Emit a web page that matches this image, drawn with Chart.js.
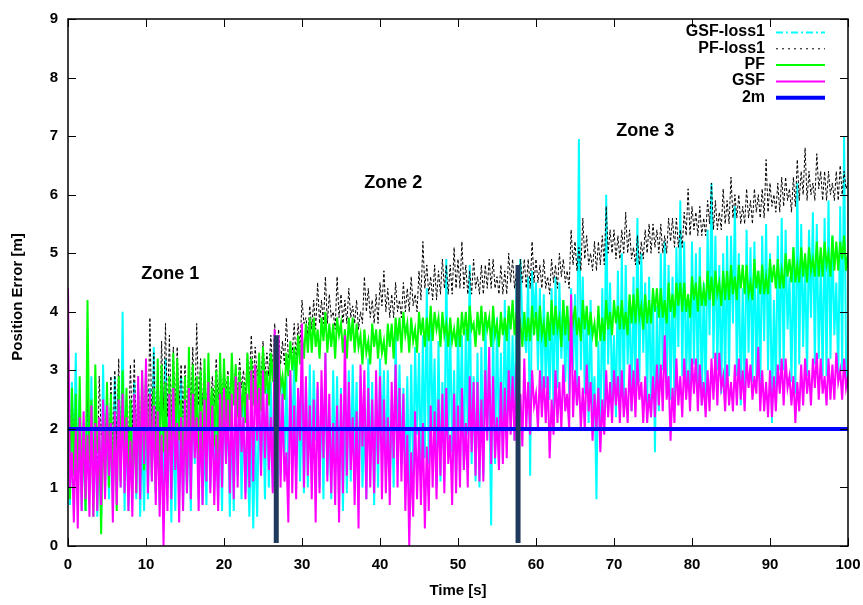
<!DOCTYPE html>
<html>
<head>
<meta charset="utf-8">
<title>Position Error</title>
<script src="https://cdn.jsdelivr.net/npm/chart.js@4.4.1/dist/chart.umd.min.js"></script>
<style>
  html, body { margin: 0; padding: 0; background: #fff; }
  canvas { display: block; }
</style>
</head>
<body>
<canvas id="errorChart" width="863" height="605"></canvas>
<script>
// Position error over time, four filters plus the 2 m reference

// ============================================================
// DATA (one sample every 0.25 s, from 0 to 100 s, 20 per row = 5 s)
// ============================================================
const sampleStep = 0.25;

const gsfLoss1Values = [
    2.6, 0.7, 2.8, 1.4, 3.3, 0.9, 2.5, 0.6, 2.1, 0.6, 2.7, 1.0, 2.9, 1.0, 2.4, 0.5, 1.8, 0.5, 3.1, 1.2,
    2.6, 0.8, 2.4, 0.7, 2.9, 1.3, 2.7, 1.0, 4.0, 0.6, 2.2, 0.6, 2.5, 1.1, 2.8, 0.8, 2.6, 0.5, 1.9, 0.6,
    2.3, 0.8, 2.7, 1.1, 3.4, 0.9, 2.7, 0.7, 2.0, 0.9, 3.2, 1.2, 2.6, 0.4, 2.2, 0.6, 2.5, 0.9, 2.9, 0.6,
    2.4, 0.9, 2.1, 0.6, 2.7, 1.4, 2.6, 0.8, 2.3, 0.7, 1.8, 0.7, 2.9, 1.0, 2.5, 1.1, 2.2, 0.7, 2.3, 0.6,
    2.6, 1.5, 2.2, 0.5, 2.3, 0.6, 2.5, 1.2, 2.7, 0.8, 2.4, 0.9, 1.7, 0.5, 2.1, 0.3, 2.0, 0.5, 2.6, 1.3,
    2.4, 0.8, 2.7, 1.0, 2.8, 1.0, 2.9, 1.6, 3.0, 1.2, 2.8, 1.4, 2.9, 1.0, 3.0, 1.8, 3.2, 1.3, 2.7, 1.1,
    2.5, 0.9, 2.8, 1.0, 3.1, 1.1, 3.0, 1.8, 2.7, 1.0, 2.7, 0.8, 3.3, 1.2, 2.0, 0.8, 3.0, 1.2, 2.9, 0.9,
    2.7, 0.6, 2.4, 0.9, 3.0, 1.1, 3.1, 1.5, 2.8, 0.9, 2.9, 1.0, 2.2, 0.8, 3.2, 1.3, 2.8, 0.7, 2.6, 1.0,
    3.2, 1.8, 3.0, 1.2, 3.0, 1.1, 2.5, 1.0, 3.7, 1.5, 3.1, 1.4, 2.7, 1.1, 2.9, 0.9, 3.1, 1.2, 3.4, 1.9,
    3.3, 1.2, 3.6, 1.5, 4.4, 1.4, 3.9, 2.0, 3.2, 1.0, 3.5, 1.1, 2.8, 1.3, 4.9, 1.8, 3.7, 1.6, 3.0, 1.1,
    3.8, 2.0, 3.6, 1.3, 3.7, 1.9, 4.8, 1.4, 2.9, 1.1, 3.3, 1.0, 3.4, 1.2, 3.9, 2.2, 2.6, 0.35, 3.8, 1.4,
    3.9, 1.7, 3.3, 1.5, 4.2, 1.9, 4.0, 2.1, 3.6, 1.8, 4.5, 3.5, 4.9, 3.8, 3.6, 3.3, 4.6, 1.2, 4.7, 3.9,
    4.5, 3.0, 4.4, 2.6, 4.3, 2.7, 3.9, 2.5, 4.4, 2.3, 4.6, 2.7, 4.5, 3.2, 4.2, 2.8, 4.1, 2.6, 4.4, 3.0,
    4.3, 2.4, 6.95, 3.0, 4.6, 2.6, 4.0, 2.1, 4.2, 2.2, 2.9, 0.8, 3.5, 1.9, 4.4, 2.3, 6.0, 3.1, 4.5, 2.5,
    3.6, 2.2, 4.7, 2.4, 5.0, 2.5, 4.8, 3.1, 4.2, 2.3, 4.6, 2.6, 5.6, 2.8, 5.0, 3.3, 4.5, 2.4, 4.6, 2.2,
    4.4, 1.6, 4.1, 2.3, 5.0, 3.0, 5.2, 2.6, 4.8, 2.5, 4.6, 2.4, 5.1, 3.4, 5.9, 2.9, 5.2, 2.8, 4.3, 2.5,
    5.2, 3.1, 5.0, 2.6, 5.1, 2.4, 4.5, 2.5, 5.4, 3.6, 6.2, 3.2, 5.3, 3.0, 4.8, 2.6, 5.0, 2.7, 5.3, 2.9,
    5.3, 3.8, 5.8, 2.9, 5.0, 2.4, 4.4, 2.6, 5.4, 3.3, 5.1, 2.8, 5.2, 2.9, 4.7, 2.7, 5.3, 3.5, 5.5, 3.0,
    5.0, 2.1, 4.2, 2.7, 5.3, 3.0, 5.6, 3.0, 5.4, 3.7, 4.6, 2.8, 5.1, 2.6, 6.2, 3.1, 5.5, 3.4, 4.9, 2.9,
    5.4, 3.9, 5.7, 3.1, 5.5, 3.2, 4.8, 2.9, 5.6, 2.9, 5.9, 3.2, 5.3, 3.6, 4.5, 2.9, 5.8, 3.0, 7.0, 3.1,
    2.7
];

const pfLoss1Values = [
    3.0, 1.4, 2.7, 1.6, 2.5, 1.2, 2.4, 1.1, 2.2, 1.0, 2.6, 1.5, 2.4, 1.1, 2.3, 0.8, 2.9, 1.9, 2.2, 1.3,
    2.7, 1.3, 2.9, 1.5, 3.0, 1.7, 3.2, 1.6, 2.9, 1.5, 2.6, 1.7, 3.1, 2.0, 3.2, 1.8, 2.9, 1.6, 3.0, 1.9,
    3.2, 1.8, 3.9, 2.0, 3.3, 1.9, 3.0, 2.1, 3.5, 2.3, 3.8, 2.2, 3.6, 2.1, 3.4, 2.3, 3.4, 2.4, 3.1, 2.2,
    3.1, 2.0, 3.3, 2.3, 3.4, 2.2, 3.8, 2.4, 3.2, 2.4, 3.0, 2.3, 3.1, 2.3, 2.9, 2.4, 3.2, 2.5, 3.1, 2.5,
    3.1, 2.6, 3.0, 2.5, 3.0, 2.5, 3.1, 2.6, 3.2, 2.7, 3.0, 2.6, 3.3, 2.8, 3.6, 2.8, 3.4, 2.9, 3.2, 2.8,
    3.5, 2.9, 3.3, 2.9, 3.6, 3.0, 3.8, 3.1, 3.7, 3.1, 3.5, 3.1, 3.9, 3.2, 3.4, 3.3, 3.8, 3.2, 3.8, 3.4,
    4.2, 3.8, 3.9, 3.6, 4.1, 3.7, 4.2, 3.7, 4.5, 3.8, 4.2, 3.8, 4.6, 3.8, 4.3, 3.9, 4.0, 3.7, 4.6, 3.9,
    4.3, 3.8, 4.2, 3.8, 4.4, 3.9, 4.1, 3.8, 4.2, 3.7, 4.0, 3.8, 4.6, 4.0, 4.4, 3.9, 4.2, 3.8, 4.3, 3.8,
    4.5, 4.1, 4.7, 4.0, 4.4, 3.9, 4.3, 3.9, 4.5, 4.0, 4.2, 3.9, 4.5, 4.0, 4.4, 4.0, 4.6, 4.1, 4.3, 4.0,
    4.7, 4.2, 5.2, 4.4, 4.8, 4.3, 4.6, 4.2, 4.8, 4.2, 4.7, 4.3, 4.9, 4.4, 4.8, 4.3, 4.8, 4.3, 5.1, 4.4,
    4.9, 4.4, 5.2, 4.4, 4.8, 4.3, 4.7, 4.3, 4.9, 4.4, 4.6, 4.3, 4.8, 4.3, 4.8, 4.4, 4.9, 4.4, 4.9, 4.4,
    4.6, 4.3, 4.8, 4.3, 4.7, 4.3, 5.0, 4.5, 4.9, 4.4, 4.7, 4.4, 4.9, 4.5, 4.9, 4.4, 4.9, 4.4, 5.2, 4.5,
    4.9, 4.5, 4.8, 4.4, 4.9, 4.4, 4.6, 4.3, 4.9, 4.5, 4.8, 4.4, 5.0, 4.6, 4.9, 4.5, 4.7, 4.4, 5.4, 4.8,
    5.2, 4.7, 5.1, 4.7, 5.6, 4.9, 5.3, 4.8, 5.0, 4.7, 5.2, 4.7, 5.2, 4.8, 5.3, 4.8, 5.8, 5.0, 5.4, 5.0,
    5.4, 4.9, 5.3, 4.9, 5.4, 5.0, 5.7, 5.0, 5.4, 4.9, 5.1, 4.8, 5.3, 4.8, 5.2, 4.9, 5.4, 5.0, 5.5, 5.0,
    5.5, 5.1, 5.4, 5.0, 5.5, 5.0, 5.3, 5.0, 5.6, 5.2, 5.6, 5.1, 5.6, 5.1, 5.4, 5.1, 5.7, 5.3, 6.1, 5.3,
    5.8, 5.4, 5.7, 5.3, 5.8, 5.3, 5.6, 5.3, 5.9, 5.5, 6.2, 5.4, 5.9, 5.4, 5.7, 5.4, 6.1, 5.5, 5.9, 5.5,
    6.3, 5.6, 6.0, 5.6, 6.0, 5.5, 5.8, 5.5, 6.1, 5.6, 5.9, 5.5, 6.1, 5.7, 6.0, 5.6, 6.1, 5.6, 6.6, 5.7,
    6.2, 5.8, 6.0, 5.7, 6.2, 5.7, 6.3, 5.8, 6.3, 5.9, 6.1, 5.7, 6.3, 5.8, 6.6, 5.9, 6.4, 6.0, 6.8, 5.9,
    6.4, 6.0, 6.2, 5.9, 6.7, 6.1, 6.4, 5.9, 6.4, 5.9, 6.4, 6.0, 6.2, 5.9, 6.4, 5.9, 6.5, 6.0, 6.4, 6.1,
    6.2
];

const pfValues = [
    3.5, 0.8, 2.7, 1.2, 2.6, 0.7, 2.9, 0.9, 1.9, 0.6, 4.2, 1.4, 2.5, 0.5, 3.1, 1.6, 1.9, 0.2, 2.3, 0.9,
    2.8, 1.0, 2.6, 0.9, 2.2, 0.6, 2.9, 1.1, 3.0, 1.4, 2.7, 1.0, 2.5, 0.8, 2.4, 0.9, 2.7, 1.2, 3.0, 1.3,
    3.0, 1.5, 2.6, 1.2, 2.7, 0.9, 3.2, 1.3, 3.1, 1.6, 2.8, 1.0, 2.9, 1.1, 3.3, 1.4, 3.2, 1.8, 2.5, 1.1,
    2.9, 1.0, 3.4, 1.5, 3.1, 1.7, 2.9, 1.4, 3.0, 1.3, 3.2, 1.6, 3.3, 2.0, 2.7, 1.7, 3.0, 1.5, 3.3, 1.9,
    3.2, 2.1, 2.9, 2.0, 3.3, 2.4, 3.1, 2.2, 3.0, 2.2, 2.8, 2.1, 3.3, 2.5, 3.2, 2.4, 3.1, 2.3, 3.3, 2.3,
    3.4, 2.6, 3.0, 2.4, 3.3, 2.8, 3.5, 2.7, 3.4, 2.7, 2.9, 2.5, 3.3, 2.9, 3.5, 3.0, 3.4, 2.8, 3.6, 3.1,
    3.6, 3.2, 3.8, 3.3, 3.9, 3.3, 3.9, 3.4, 3.7, 3.2, 3.9, 3.5, 4.0, 3.3, 3.8, 3.4, 3.8, 3.2, 3.9, 3.6,
    3.8, 3.3, 3.7, 3.2, 3.9, 3.5, 3.9, 3.3, 3.8, 3.4, 3.6, 3.1, 3.7, 3.3, 3.5, 3.1, 3.8, 3.4, 3.7, 3.2,
    3.7, 3.3, 3.5, 3.1, 3.8, 3.4, 3.8, 3.2, 3.9, 3.5, 3.9, 3.3, 4.0, 3.6, 3.8, 3.3, 3.9, 3.5, 3.7, 3.3,
    4.0, 3.6, 3.9, 3.4, 3.9, 3.5, 4.1, 3.5, 4.0, 3.7, 3.9, 3.4, 4.0, 3.6, 3.8, 3.4, 3.9, 3.5, 3.7, 3.4,
    3.9, 3.4, 4.0, 3.6, 4.0, 3.5, 4.1, 3.7, 3.8, 3.4, 4.0, 3.6, 4.1, 3.5, 4.0, 3.7, 3.9, 3.4, 4.1, 3.6,
    3.8, 3.4, 4.0, 3.6, 3.9, 3.5, 4.1, 3.7, 4.2, 3.6, 4.0, 3.6, 3.8, 3.4, 4.0, 3.5, 3.9, 3.5, 4.1, 3.6,
    4.0, 3.5, 4.1, 3.6, 3.8, 3.4, 4.0, 3.5, 4.2, 3.6, 4.1, 3.7, 3.9, 3.4, 4.2, 3.6, 4.1, 3.5, 4.0, 3.8,
    4.1, 3.6, 3.9, 3.5, 4.2, 3.7, 4.1, 3.6, 4.0, 3.6, 3.8, 3.4, 4.1, 3.5, 3.9, 3.5, 4.2, 3.7, 4.0, 3.6,
    4.2, 3.8, 4.1, 3.7, 4.2, 3.7, 4.0, 3.6, 4.3, 3.8, 4.3, 3.8, 4.4, 3.9, 4.1, 3.7, 4.3, 3.8, 4.2, 3.8,
    4.4, 4.0, 4.4, 3.9, 4.4, 3.9, 4.2, 3.8, 4.5, 4.0, 4.3, 3.9, 4.5, 4.1, 4.5, 4.0, 4.5, 4.0, 4.3, 3.9,
    4.6, 4.2, 4.5, 4.0, 4.6, 4.1, 4.4, 4.1, 4.7, 4.2, 4.6, 4.1, 4.7, 4.3, 4.5, 4.1, 4.7, 4.2, 4.7, 4.2,
    4.8, 4.3, 4.6, 4.2, 4.8, 4.4, 4.8, 4.3, 4.8, 4.3, 4.5, 4.2, 4.9, 4.4, 4.7, 4.3, 4.8, 4.3, 4.6, 4.3,
    4.9, 4.5, 4.8, 4.4, 4.9, 4.4, 4.7, 4.4, 5.0, 4.6, 4.9, 4.5, 5.1, 4.5, 4.8, 4.5, 5.1, 4.6, 5.0, 4.5,
    5.1, 4.7, 4.9, 4.6, 5.2, 4.6, 5.1, 4.6, 5.2, 4.8, 5.0, 4.6, 5.3, 4.7, 5.2, 4.7, 5.2, 4.9, 5.3, 4.7,
    5.0
];

const gsfValues = [
    4.4, 1.0, 1.6, 0.4, 2.0, 0.3, 2.2, 0.6, 2.3, 0.8, 1.9, 0.5, 2.4, 0.5, 2.1, 0.6, 2.2, 0.7, 2.5, 0.8,
    2.4, 1.2, 2.1, 0.4, 2.3, 0.7, 2.5, 1.0, 2.6, 0.9, 2.2, 0.6, 1.8, 0.5, 2.6, 0.9, 2.9, 0.8, 3.0, 1.4,
    3.2, 0.9, 2.6, 1.1, 2.4, 0.7, 2.3, 0.5, 1.9, 0.0, 2.0, 0.6, 2.6, 0.8, 2.7, 1.3, 2.1, 0.4, 2.2, 0.6,
    2.5, 0.9, 2.7, 0.8, 2.6, 1.5, 2.2, 0.6, 2.3, 0.7, 2.5, 1.1, 2.8, 0.9, 2.4, 0.7, 1.9, 0.6, 2.6, 1.0,
    2.7, 1.4, 2.5, 0.9, 2.6, 0.8, 2.9, 1.0, 2.8, 1.6, 2.2, 0.8, 2.6, 1.0, 3.0, 1.1, 3.1, 1.8, 2.7, 1.2,
    3.0, 1.5, 2.6, 1.3, 2.2, 0.9, 3.7, 1.2, 3.6, 1.0, 2.6, 1.1, 1.6, 0.4, 3.0, 0.9, 2.4, 0.8, 2.7, 1.8,
    3.8, 1.0, 2.9, 1.2, 2.4, 0.8, 2.5, 0.4, 2.8, 0.9, 3.0, 1.5, 3.3, 1.1, 2.6, 0.9, 2.1, 0.7, 2.4, 0.4,
    2.6, 0.9, 3.6, 1.2, 2.8, 1.3, 2.2, 0.7, 2.3, 0.3, 3.1, 1.7, 3.0, 0.8, 2.7, 1.0, 2.5, 0.9, 3.0, 1.4,
    2.9, 0.8, 2.5, 0.9, 2.2, 0.7, 2.8, 1.5, 3.1, 1.0, 2.7, 1.1, 2.6, 0.6, 1.9, 0.0, 1.6, 0.5, 2.3, 0.8,
    2.0, 0.7, 2.1, 0.3, 1.7, 0.6, 2.4, 1.0, 2.3, 0.8, 2.5, 1.2, 2.6, 0.9, 2.7, 1.4, 1.9, 0.7, 2.6, 0.9,
    2.4, 1.0, 2.7, 1.3, 2.1, 1.0, 2.9, 1.6, 2.8, 1.2, 2.8, 1.1, 2.5, 1.1, 3.0, 1.8, 3.4, 1.4, 2.9, 1.5,
    2.2, 1.3, 2.8, 1.4, 2.7, 1.5, 3.0, 1.9, 2.9, 1.8, 3.1, 2.3, 2.6, 1.7, 3.2, 2.0, 2.8, 1.9, 3.0, 2.4,
    2.6, 2.0, 3.0, 2.2, 2.9, 2.1, 2.9, 1.5, 2.5, 1.9, 3.0, 2.1, 2.8, 2.0, 3.1, 2.3, 2.6, 2.0, 4.3, 2.2,
    3.0, 2.4, 2.9, 2.0, 2.7, 2.0, 3.1, 2.3, 2.8, 1.8, 2.6, 2.0, 2.7, 1.6, 2.5, 1.9, 3.0, 2.2, 2.8, 2.1,
    3.0, 2.4, 2.9, 2.1, 3.0, 2.2, 2.7, 2.1, 3.1, 2.3, 3.0, 2.2, 3.2, 2.5, 2.8, 2.1, 2.9, 2.1, 2.6, 2.2,
    2.9, 2.2, 3.1, 2.4, 3.1, 2.3, 3.6, 2.5, 2.9, 1.8, 2.7, 2.1, 3.2, 2.4, 2.9, 2.2, 3.2, 2.5, 3.0, 2.3,
    3.2, 2.6, 3.2, 2.3, 3.1, 2.4, 2.8, 2.2, 3.0, 2.3, 3.2, 2.5, 3.3, 2.4, 3.3, 2.7, 2.9, 2.3, 3.1, 2.4,
    2.8, 2.3, 3.1, 2.4, 3.2, 2.5, 3.0, 2.3, 3.2, 2.7, 3.1, 2.5, 2.9, 2.6, 3.4, 2.3, 3.0, 2.3, 2.8, 2.2,
    3.0, 2.2, 2.9, 2.3, 3.1, 2.6, 3.2, 2.4, 3.2, 2.7, 2.9, 2.4, 2.9, 2.1, 2.8, 2.3, 3.1, 2.4, 3.2, 2.6,
    3.0, 2.4, 3.2, 2.7, 3.3, 2.5, 3.2, 2.6, 2.9, 2.4, 3.2, 2.5, 3.1, 2.5, 3.3, 2.8, 3.0, 2.5, 3.2, 2.7,
    2.9
];

// 2 m reference line
const referenceTimes = [0, 100];
const referenceValues = [2, 2];

// zone boundaries (time) and how high each marker bar reaches
const zoneBoundaryTimes = [26.7, 57.7];
const zoneBoundaryBottom = 0.05;
const zoneBoundaryTops = [3.6, 4.8];

// zone captions, anchored in data units
const zoneNames = ['Zone 1', 'Zone 2', 'Zone 3'];
const zoneNameTimes = [13.1, 41.7, 74.0];
const zoneNameValues = [4.65, 6.2, 7.08];

const timeTicks = { min: 0, max: 100, step: 10 };
const errorTicks = { min: 0, max: 9, step: 1 };

// ============================================================
// STYLE
// ============================================================
const colors = {
    gsfLoss1: '#00ffff',
    pfLoss1: '#000000',
    pf: '#00ff00',
    gsf: '#ff00ff',
    reference: '#0000ff',
    boundary: '#1f3a5c'
};
const fontFamily = '"Liberation Sans", Arial, Helvetica, sans-serif';

function toPoints(values) {
    return values.map((v, i) => ({ x: i * sampleStep, y: v }));
}

// ============================================================
// PLUGINS: gnuplot-like frame, legend, titles, zone captions
// ============================================================
const gnuplotDecor = {
    id: 'gnuplotDecor',
    afterDraw(chart) {
        const ctx = chart.ctx;
        const { left, right, top, bottom } = chart.chartArea;
        const xs = chart.scales.x;
        const ys = chart.scales.y;
        const tickLen = 8;

        ctx.save();
        ctx.strokeStyle = '#000';
        ctx.lineWidth = 1;
        ctx.beginPath();
        xs.ticks.forEach(t => {
            const px = Math.round(xs.getPixelForValue(t.value)) + 0.5;
            ctx.moveTo(px, bottom); ctx.lineTo(px, bottom - tickLen);
            ctx.moveTo(px, top); ctx.lineTo(px, top + tickLen);
        });
        ys.ticks.forEach(t => {
            const py = Math.round(ys.getPixelForValue(t.value)) + 0.5;
            ctx.moveTo(left, py); ctx.lineTo(left + tickLen, py);
            ctx.moveTo(right, py); ctx.lineTo(right - tickLen, py);
        });
        ctx.stroke();

        ctx.lineWidth = 1.5;
        ctx.strokeRect(left, top, right - left, bottom - top);

        // axis titles
        ctx.fillStyle = '#000';
        ctx.font = 'bold 15px ' + fontFamily;
        ctx.textAlign = 'center';
        ctx.textBaseline = 'middle';
        ctx.fillText('Time [s]', (left + right) / 2, 591);
        ctx.save();
        ctx.translate(18, 297);
        ctx.rotate(-Math.PI / 2);
        ctx.fillText('Position Error [m]', 0, 0);
        ctx.restore();

        // zone captions
        ctx.font = 'bold 18px ' + fontFamily;
        zoneNames.forEach((name, i) => {
            ctx.fillText(name, xs.getPixelForValue(zoneNameTimes[i]), ys.getPixelForValue(zoneNameValues[i]));
        });

        // legend, text right aligned with the sample on its right
        ctx.font = 'bold 16px ' + fontFamily;
        ctx.textAlign = 'right';
        let row = 0;
        chart.data.datasets.forEach(ds => {
            if (!ds.label) return;
            const y = 32 + row * 16.3;
            ctx.fillStyle = '#000';
            ctx.fillText(ds.label, 765, y);
            ctx.beginPath();
            ctx.setLineDash(ds.legendDash || []);
            ctx.strokeStyle = ds.borderColor;
            ctx.lineWidth = ds.legendWidth || ds.borderWidth;
            ctx.moveTo(776, y + 0.5);
            ctx.lineTo(825, y + 0.5);
            ctx.stroke();
            ctx.setLineDash([]);
            row++;
        });
        ctx.restore();
    }
};

// ============================================================
// BUILD CHART
// ============================================================
const boundaryDatasets = zoneBoundaryTimes.map((t, i) => ({
    label: '',
    data: [{ x: t, y: zoneBoundaryBottom }, { x: t, y: zoneBoundaryTops[i] }],
    borderColor: colors.boundary,
    borderWidth: 5,
    borderCapStyle: 'butt',
    order: 0
}));

new Chart(document.getElementById('errorChart'), {
    type: 'line',
    data: {
        datasets: [
            {
                label: 'GSF-loss1',
                data: toPoints(gsfLoss1Values),
                borderColor: colors.gsfLoss1,
                borderWidth: 2,
                legendDash: [7, 3, 2, 3],
                legendWidth: 2,
                order: 5
            },
            {
                label: 'PF-loss1',
                data: toPoints(pfLoss1Values),
                borderColor: colors.pfLoss1,
                borderWidth: 1,
                borderDash: [3, 2],
                legendDash: [2, 4],
                order: 4
            },
            {
                label: 'PF',
                data: toPoints(pfValues),
                borderColor: colors.pf,
                borderWidth: 2,
                order: 3
            },
            {
                label: 'GSF',
                data: toPoints(gsfValues),
                borderColor: colors.gsf,
                borderWidth: 2,
                order: 2
            },
            {
                label: '2m',
                data: referenceTimes.map((t, i) => ({ x: t, y: referenceValues[i] })),
                borderColor: colors.reference,
                borderWidth: 4,
                order: 1
            },
            ...boundaryDatasets
        ]
    },
    options: {
        responsive: false,
        animation: false,
        layout: { padding: { left: 0, right: 15, top: 12, bottom: 0 } },
        elements: {
            point: { radius: 0, hoverRadius: 0 },
            line: { tension: 0, fill: false }
        },
        plugins: {
            legend: { display: false },
            tooltip: { enabled: false }
        },
        scales: {
            x: {
                type: 'linear',
                min: timeTicks.min,
                max: timeTicks.max,
                ticks: {
                    stepSize: timeTicks.step,
                    color: '#000',
                    padding: 10,
                    minRotation: 0,
                    maxRotation: 0,
                    autoSkip: false,
                    font: { family: fontFamily, size: 15, weight: 'bold' }
                },
                grid: { display: false, drawTicks: false },
                border: { display: false },
                afterFit: scale => {
                    scale.height = 59;
                    scale.paddingLeft = 0;
                    scale.paddingRight = 0;
                }
            },
            y: {
                type: 'linear',
                min: errorTicks.min,
                max: errorTicks.max,
                ticks: {
                    stepSize: errorTicks.step,
                    color: '#000',
                    padding: 10,
                    font: { family: fontFamily, size: 15, weight: 'bold' }
                },
                grid: { display: false, drawTicks: false },
                border: { display: false },
                afterFit: scale => { scale.width = 68; }
            }
        }
    },
    plugins: [gnuplotDecor]
});
</script>
</body>
</html>
